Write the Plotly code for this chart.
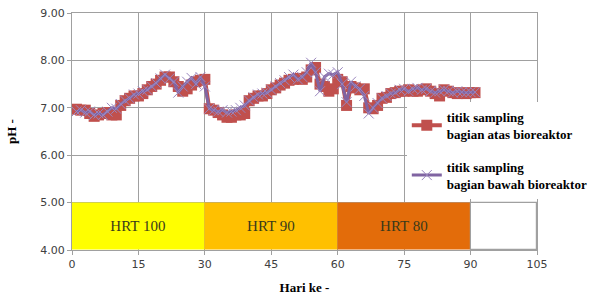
import plotly.graph_objects as go

days = list(range(1, 92))
ph_atas = [6.97, 6.95, 6.95, 6.88, 6.82, 6.85, 6.88, 6.90, 6.85, 6.85,
           7.05, 7.15, 7.20, 7.25, 7.25, 7.30, 7.38, 7.45, 7.50, 7.58,
           7.65, 7.65, 7.55, 7.45, 7.35, 7.40, 7.48, 7.55, 7.58, 7.60,
           6.98, 6.95, 6.90, 6.85, 6.80, 6.80, 6.85, 6.85, 6.88, 7.15,
           7.20, 7.25, 7.25, 7.30, 7.38, 7.42, 7.48, 7.52, 7.58, 7.60,
           7.62, 7.60, 7.65, 7.80, 7.85, 7.50, 7.45, 7.35, 7.40, 7.60,
           7.55, 7.05, 7.45, 7.42, 7.38, 7.40, 7.00, 6.98, 7.05, 7.20,
           7.22, 7.30, 7.32, 7.35, 7.35, 7.38, 7.35, 7.35, 7.38, 7.40,
           7.35, 7.30, 7.25, 7.38, 7.35, 7.32, 7.30, 7.32, 7.30, 7.32, 7.32]
ph_bawah = [6.92, 6.95, 6.90, 6.92, 6.85, 6.88, 6.85, 6.92, 7.00, 6.98,
            7.08, 7.15, 7.20, 7.28, 7.30, 7.35, 7.38, 7.45, 7.52, 7.62,
            7.70, 7.62, 7.55, 7.32, 7.45, 7.55, 7.63, 7.50, 7.65, 7.45,
            6.98, 6.95, 6.92, 6.95, 6.90, 6.92, 6.95, 7.00, 7.05, 7.15,
            7.22, 7.28, 7.30, 7.32, 7.38, 7.45, 7.52, 7.58, 7.65, 7.70,
            7.60, 7.65, 7.75, 7.95, 7.75, 7.35, 7.65, 7.72, 7.70, 7.75,
            7.50, 7.12, 7.55, 7.45, 7.40, 7.25, 6.88, 7.00, 7.10, 7.20,
            7.25, 7.30, 7.32, 7.38, 7.40, 7.35, 7.40, 7.42, 7.38, 7.40,
            7.35, 7.32, 7.35, 7.38, 7.35, 7.32, 7.35, 7.33, 7.32, 7.33, 7.33]

hrt_labels = ["HRT 100", "HRT 90", "HRT 80", ""]
hrt_start = [0, 30, 60, 90]
hrt_end = [30, 60, 90, 105]
hrt_colors = ["#FFFF00", "#FFC000", "#E36C0A", "#FFFFFF"]
band_low, band_high = 4.0, 5.0

x_ticks = [0, 15, 30, 45, 60, 75, 90, 105]
y_ticks = [4, 5, 6, 7, 8, 9]

fig = go.Figure()

fig.add_trace(go.Bar(
    x=[(s + e) / 2 for s, e in zip(hrt_start, hrt_end)],
    y=[band_high - band_low] * len(hrt_labels),
    base=[band_low] * len(hrt_labels),
    width=[e - s for s, e in zip(hrt_start, hrt_end)],
    marker=dict(color=hrt_colors, line=dict(color=["rgba(0,0,0,0)"] * 3 + ["#A0A0A0"], width=1.2)),
    text=hrt_labels,
    textposition="inside",
    insidetextanchor="middle",
    textangle=0,
    textfont=dict(family="Liberation Serif", size=15, color="#3A3A1A"),
    showlegend=False,
    hoverinfo="skip",
))

fig.add_trace(go.Scatter(
    x=days, y=ph_atas, mode="lines+markers",
    name="<b>titik sampling<br>bagian atas bioreaktor</b>",
    legendgroup="a",
    line=dict(color="#C0504D", width=4),
    marker=dict(symbol="square", size=11, color="#C0504D"),
))
fig.add_trace(go.Scatter(
    x=days, y=ph_bawah, mode="lines+markers",
    name="<b>titik sampling<br>bagian bawah bioreaktor</b>",
    legendgroup="b",
    line=dict(color="#8064A2", width=3),
    marker=dict(symbol="x-thin", size=10, color="#8064A2",
                line=dict(color="#9A86BE", width=1)),
))

axis_font = dict(family="DejaVu Sans", size=11, color="#404040")
title_font = dict(family="Liberation Serif", size=13, color="#000000")

fig.update_layout(
    width=595, height=295,
    margin=dict(l=72, r=58, t=13, b=45, autoexpand=False),
    paper_bgcolor="white", plot_bgcolor="white",
    bargap=0,
    legend=dict(
        x=0.72, y=0.625, xanchor="left", yanchor="top",
        bgcolor="white",
        font=dict(family="Liberation Serif", size=13, color="#000000"),
        tracegroupgap=13,
        itemwidth=30,
    ),
    xaxis=dict(
        range=[0, 105], tickvals=x_ticks, ticktext=[str(v) for v in x_ticks],
        showgrid=True, gridcolor="#A0A0A0", gridwidth=1,
        showline=True, linecolor="#A0A0A0", linewidth=1, mirror=True,
        ticks="outside", ticklen=4, tickcolor="#A0A0A0",
        tickfont=axis_font, zeroline=False, automargin=False,
        title=dict(text="<b>Hari ke -</b>", font=title_font, standoff=12),
    ),
    yaxis=dict(
        range=[4, 9], tickvals=y_ticks, ticktext=[f"{v:.2f}" for v in y_ticks],
        showgrid=True, gridcolor="#A0A0A0", gridwidth=1,
        showline=True, linecolor="#A0A0A0", linewidth=1, mirror=True,
        ticks="outside", ticklen=4, tickcolor="#A0A0A0",
        tickfont=axis_font, zeroline=False, automargin=False,
        title=dict(text="<b>pH -</b>", font=title_font, standoff=20),
    ),
)

fig.write_html("out.html", config={"displayModeBar": False},
               post_script="document.body.style.margin='0px';")
